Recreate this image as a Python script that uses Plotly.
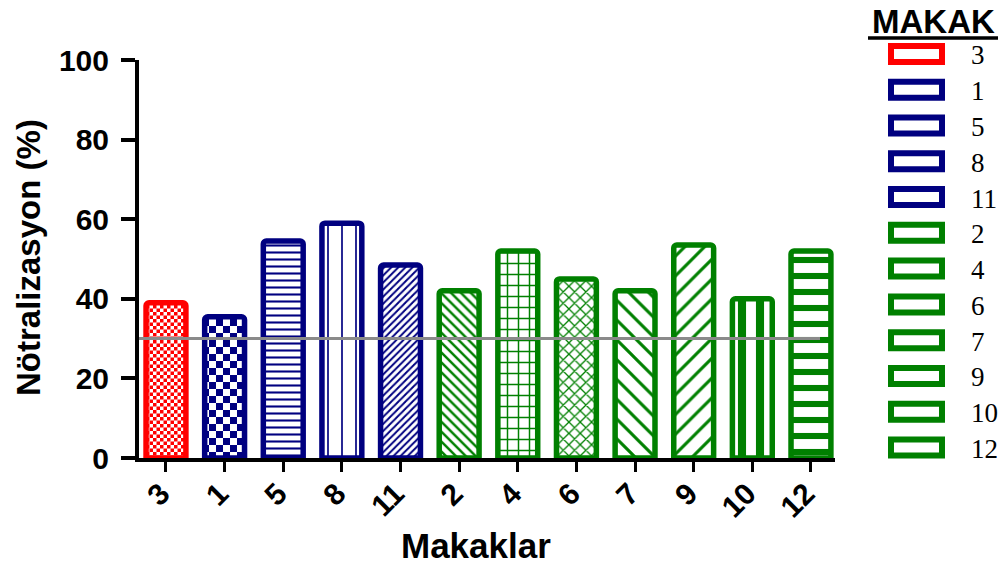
import plotly.graph_objects as go

# Strain labels, in plotted order, and neutralisation values (%)
categories = ["3", "1", "5", "8", "11", "2", "4", "6", "7", "9", "10", "12"]
values = [39, 35.5, 54.5, 59, 48.5, 42, 52, 45, 42, 53.5, 40, 52]
threshold = 30

# Per-bar styling
RED, NAVY, GREEN = "#FF0000", "#000080", "#008000"
bar_colors = [RED, NAVY, NAVY, NAVY, NAVY, GREEN, GREEN, GREEN, GREEN, GREEN, GREEN, GREEN]
pattern_shapes = [".", ".", "-", "|", "/", "\\", "+", "x", "\\", "/", "|", "-"]
pattern_sizes = [7, 14, 7, 14, 5, 7, 11, 8, 14, 14, 18, 16]
pattern_solidity = [0.5, 0.5, 0.3, 0.12, 0.4, 0.35, 0.25, 0.3, 0.22, 0.22, 0.45, 0.38]

W, H = 1005, 565
L, R, T, B = 139, 170, 60, 107
PW, PH = W - L - R, H - T - B


def paper_x(px):
    return (px - L) / PW


def paper_y(py):
    return (H - B - py) / PH


FONT = "Liberation Sans"
positions = list(range(len(categories)))

fig = go.Figure()
fig.add_trace(go.Bar(
    x=positions,
    y=values,
    width=0.68,
    marker=dict(
        color="white",
        line=dict(color=bar_colors, width=5.5),
        cornerradius=3,
        pattern=dict(
            shape=pattern_shapes,
            size=pattern_sizes,
            solidity=pattern_solidity,
            fgcolor=bar_colors,
            bgcolor="white",
            fillmode="replace",
        ),
    ),
    showlegend=False,
    hoverinfo="skip",
))

shapes = [
    # reference level
    dict(type="line", xref="paper", yref="y", x0=0, x1=paper_x(820),
         y0=threshold, y1=threshold, line=dict(color="#8a8a8a", width=3), layer="above"),
    # underline of the key title
    dict(type="line", xref="paper", yref="paper", x0=paper_x(868), x1=paper_x(998),
         y0=paper_y(38), y1=paper_y(38), line=dict(color="black", width=3.5)),
]

annotations = [
    dict(text="Nötralizasyon (%)", xref="paper", yref="paper", x=paper_x(28), y=paper_y(257),
         textangle=-90, showarrow=False, xanchor="center", yanchor="middle",
         font=dict(family=FONT, size=33, color="black", weight="bold")),
    dict(text="Makaklar", xref="paper", yref="paper", x=paper_x(476), y=paper_y(545),
         showarrow=False, xanchor="center", yanchor="middle",
         font=dict(family=FONT, size=35, color="black", weight="bold")),
    dict(text="MAKAK", xref="paper", yref="paper", x=paper_x(933), y=paper_y(22),
         showarrow=False, xanchor="center", yanchor="middle",
         font=dict(family=FONT, size=33, color="black", weight="bold")),
]

# Key: outlined swatch plus label for each strain
row0, row_step = 54, 35.77
for i, (cat, col) in enumerate(zip(categories, bar_colors)):
    cy = row0 + i * row_step
    shapes.append(dict(type="rect", xref="paper", yref="paper",
                       x0=paper_x(891), x1=paper_x(942),
                       y0=paper_y(cy - 8), y1=paper_y(cy + 8),
                       line=dict(color=col, width=6), fillcolor="white"))
    annotations.append(dict(text=cat, xref="paper", yref="paper",
                            x=paper_x(969), y=paper_y(cy + 1.5),
                            showarrow=False, xanchor="left", yanchor="middle",
                            font=dict(family="Liberation Serif", size=27, color="black")))

fig.update_layout(
    width=W, height=H,
    autosize=False,
    margin=dict(l=L, r=R, t=T, b=B, pad=0),
    paper_bgcolor="white",
    plot_bgcolor="white",
    shapes=shapes,
    annotations=annotations,
    xaxis=dict(
        range=[-0.46, 11.41],
        tickmode="array", tickvals=positions, ticktext=categories,
        tickangle=-45,
        showline=True, linecolor="black", linewidth=4,
        ticks="outside", ticklen=10, tickwidth=3, tickcolor="black",
        ticklabelstandoff=-8,
        ticklabelshift=-5,
        tickfont=dict(family=FONT, size=30, color="black", weight="bold"),
        showgrid=False, zeroline=False, fixedrange=True,
    ),
    yaxis=dict(
        range=[0, 100], tickmode="linear", tick0=0, dtick=20,
        showline=True, linecolor="black", linewidth=4,
        ticks="outside", ticklen=14, tickwidth=4, tickcolor="black",
        ticklabelstandoff=6,
        tickfont=dict(family=FONT, size=30, color="black", weight="bold"),
        showgrid=False, zeroline=False, fixedrange=True,
    ),
)

# Turn the dot fills into a checkerboard
checker_js = """
document.querySelectorAll('pattern').forEach(function(p){
  var c = p.querySelector('circle');
  if(!c) return;
  var w = parseFloat(p.getAttribute('width'));
  var h = parseFloat(p.getAttribute('height'));
  var fill = c.getAttribute('fill') || c.style.fill;
  var ns = 'http://www.w3.org/2000/svg';
  [[0,0],[w/2,h/2]].forEach(function(o){
    var r = document.createElementNS(ns, 'rect');
    r.setAttribute('x', o[0]); r.setAttribute('y', o[1]);
    r.setAttribute('width', w/2); r.setAttribute('height', h/2);
    r.setAttribute('fill', fill);
    p.appendChild(r);
  });
  c.remove();
});
"""

fig.write_html("out.html", config={"displayModeBar": False}, post_script=checker_js)
